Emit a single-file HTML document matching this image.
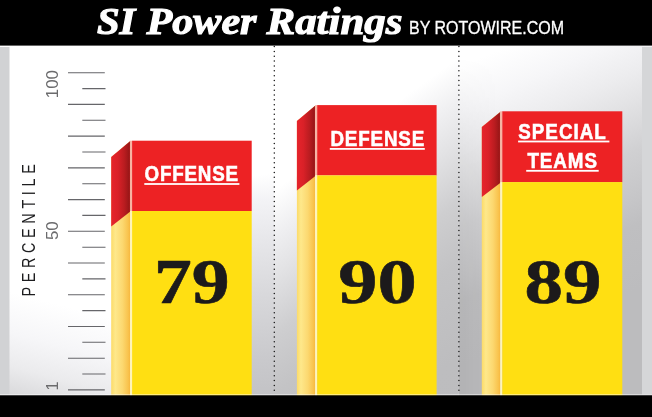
<!DOCTYPE html>
<html lang="en">
<head>
<meta charset="utf-8">
<title>SI Power Ratings</title>
<style>
  html, body { margin: 0; padding: 0; background: #fff; }
  body { width: 652px; height: 417px; overflow: hidden; }
  svg { display: block; }
  .serif { font-family: "Liberation Serif", "DejaVu Serif", serif; }
  .sans { font-family: "Liberation Sans", "DejaVu Sans", sans-serif; }
</style>
</head>
<body>
<svg width="652" height="417" viewBox="0 0 652 417">
  <defs>
    <!-- background diagonal gradient -->
    <linearGradient id="bgL" gradientUnits="userSpaceOnUse" x1="0" y1="0" x2="-175.0" y2="677.6">
      <stop offset="0.4000" stop-color="#ffffff"/>
      <stop offset="0.4571" stop-color="#f6f6f8"/>
      <stop offset="0.5029" stop-color="#ebebed"/>
      <stop offset="0.5343" stop-color="#dddddf"/>
      <stop offset="0.5714" stop-color="#cdcdcf"/>
    </linearGradient>
    <linearGradient id="bgM" gradientUnits="userSpaceOnUse" x1="0" y1="0" x2="408.8" y2="567.7">
      <stop offset="0.4500" stop-color="#ffffff"/>
      <stop offset="0.4986" stop-color="#f0f0f2"/>
      <stop offset="0.5471" stop-color="#e3e3e5"/>
      <stop offset="0.6171" stop-color="#ceced0"/>
      <stop offset="0.6600" stop-color="#c7c7c9"/>
      <stop offset="0.6871" stop-color="#c3c3c5"/>
      <stop offset="0.7971" stop-color="#bdbdbf"/>
      <stop offset="0.9143" stop-color="#bcbcbe"/>
    </linearGradient>
    <linearGradient id="bgR" gradientUnits="userSpaceOnUse" x1="0" y1="0" x2="280.0" y2="641.9">
      <stop offset="0.3500" stop-color="#ffffff"/>
      <stop offset="0.4071" stop-color="#f6f6f8"/>
      <stop offset="0.4571" stop-color="#ececee"/>
      <stop offset="0.4929" stop-color="#e3e3e5"/>
      <stop offset="0.5429" stop-color="#d5d5d7"/>
      <stop offset="0.5600" stop-color="#d0d0d2"/>
      <stop offset="0.6214" stop-color="#c6c6c8"/>
      <stop offset="0.6571" stop-color="#bfbfc1"/>
      <stop offset="0.7429" stop-color="#bcbcbe"/>
    </linearGradient>
    <linearGradient id="bgG1" gradientUnits="userSpaceOnUse" x1="0" y1="0" x2="42.0" y2="698.6">
      <stop offset="0.2714" stop-color="#ffffff"/>
      <stop offset="0.3071" stop-color="#f3f3f6"/>
      <stop offset="0.3643" stop-color="#e7e7ea"/>
      <stop offset="0.4429" stop-color="#d8d8db"/>
      <stop offset="0.5357" stop-color="#c9c9cc"/>
      <stop offset="0.5857" stop-color="#c3c3c6"/>
    </linearGradient>
    <!-- red side face -->
    <linearGradient id="redside" x1="0" y1="0" x2="1" y2="0">
      <stop offset="0" stop-color="#e6242b"/>
      <stop offset="0.35" stop-color="#da2128"/>
      <stop offset="0.7" stop-color="#b91c20"/>
      <stop offset="0.93" stop-color="#9c1718"/>
      <stop offset="1" stop-color="#a81b1c"/>
    </linearGradient>
    <!-- yellow side face -->
    <linearGradient id="yelside" x1="0" y1="0" x2="1" y2="0">
      <stop offset="0" stop-color="#fcdb68"/>
      <stop offset="0.22" stop-color="#fee88b"/>
      <stop offset="0.6" stop-color="#fcd870"/>
      <stop offset="0.9" stop-color="#f9c34d"/>
      <stop offset="1" stop-color="#f7b840"/>
    </linearGradient>
    <linearGradient id="edgeR" gradientUnits="userSpaceOnUse" x1="458.9" y1="0" x2="500" y2="0">
      <stop offset="0" stop-color="#000" stop-opacity="0.05"/>
      <stop offset="1" stop-color="#000" stop-opacity="0"/>
    </linearGradient>
    <linearGradient id="edgeRv" gradientUnits="userSpaceOnUse" x1="0" y1="55" x2="0" y2="170">
      <stop offset="0" stop-color="#000"/>
      <stop offset="1" stop-color="#fff"/>
    </linearGradient>
    <mask id="edgeMask" maskUnits="userSpaceOnUse" x="458" y="45" width="50" height="352">
      <rect x="458" y="45" width="50" height="352" fill="url(#edgeRv)"/>
    </mask>
  </defs>

  <!-- background -->
  <rect x="0" y="0" width="652" height="417" fill="#ffffff"/>
  <rect x="0" y="45" width="200" height="351" fill="url(#bgL)"/>
  <rect x="200" y="45" width="258.9" height="351" fill="url(#bgM)"/>
  <rect x="458.9" y="45" width="194" height="351" fill="url(#bgR)"/>
  <rect x="240" y="45" width="34.3" height="351" fill="url(#bgG1)"/>
  <rect x="458.9" y="45" width="41.1" height="351" fill="url(#edgeR)" mask="url(#edgeMask)"/>
  <!-- left / right gray strips -->
  <rect x="0" y="47" width="9.5" height="347.5" fill="#d1d2d4"/>
  <rect x="642" y="47" width="10" height="347.5" fill="#d5d6d8"/>

  <!-- dotted dividers -->
  <g stroke="#1a1a1a" stroke-width="1.5" stroke-linecap="round" stroke-dasharray="0 4.84" fill="none">
    <line x1="274.3" y1="46.6" x2="274.3" y2="395"/>
    <line x1="458.9" y1="46.6" x2="458.9" y2="395"/>
  </g>

  <!-- tick scale -->
  <g stroke="#66666a" stroke-width="1.1" fill="none">
    <path d="M68 72.7H104.8 M68 104.4H104.8 M68 136.1H104.8 M68 167.9H104.8 M68 199.6H104.8 M68 231.3H104.8 M68 263H104.8 M68 294.7H104.8 M68 326.5H104.8 M68 358.2H104.8 M68 389.9H104.8"/>
    <path d="M82.3 88.6H105.5 M82.3 120.3H105.5 M82.3 152H105.5 M82.3 183.7H105.5 M82.3 215.4H105.5 M82.3 247.2H105.5 M82.3 278.9H105.5 M82.3 310.6H105.5 M82.3 342.3H105.5 M82.3 374H105.5"/>
  </g>

  <!-- axis labels (rotated) -->
  <g class="sans" fill="#6b6b6d" font-size="17">
    <text transform="translate(58.1 98.2) rotate(-90)" textLength="28" lengthAdjust="spacingAndGlyphs">100</text>
    <text transform="translate(58 240.1) rotate(-90)" textLength="18.7" lengthAdjust="spacingAndGlyphs">50</text>
    <text transform="translate(58.4 390.6) rotate(-90)" textLength="9" lengthAdjust="spacingAndGlyphs">1</text>
  </g>
  <text class="sans" fill="#1d1d1f" font-size="18" transform="translate(35.3 296.6) rotate(-90) scale(0.8 1)" textLength="165.5" lengthAdjust="spacing">PERCENTILE</text>

  <!-- ===== OFFENSE bar ===== -->
  <g>
    <polygon points="111.2,157.1 130.0,141.3 130.0,396 111.2,396" fill="url(#yelside)"/>
    <polygon points="111.2,157.1 130.0,141.3 130.0,211.8 111.2,226.6" fill="url(#redside)"/>
    <rect x="130.0" y="140.7" width="2.3" height="70.3" fill="#f7b3a2"/>
    <rect x="130.0" y="211.0" width="2.3" height="185.0" fill="#fff4b8"/>
    <rect x="132.1" y="140.7" width="119.6" height="70.3" fill="#ed2224"/>
    <rect x="132.1" y="211.0" width="119.6" height="185.0" fill="#ffdf12"/>
  </g>
  <!-- ===== DEFENSE bar ===== -->
  <g>
    <polygon points="296.9,121.1 315.1,105.7 315.1,396 296.9,396" fill="url(#yelside)"/>
    <polygon points="296.9,121.1 315.1,105.7 315.1,176.2 296.9,190.6" fill="url(#redside)"/>
    <rect x="315.1" y="105.1" width="2.3" height="70.3" fill="#f7b3a2"/>
    <rect x="315.1" y="175.39999999999998" width="2.3" height="220.6" fill="#fff4b8"/>
    <rect x="317.2" y="105.1" width="119.4" height="70.3" fill="#ed2224"/>
    <rect x="317.2" y="175.39999999999998" width="119.4" height="220.6" fill="#ffdf12"/>
  </g>
  <!-- ===== SPECIAL TEAMS bar ===== -->
  <g>
    <polygon points="481.8,127.1 500.2,111.9 500.2,396 481.8,396" fill="url(#yelside)"/>
    <polygon points="481.8,127.1 500.2,111.9 500.2,182.9 481.8,197.1" fill="url(#redside)"/>
    <rect x="500.2" y="111.3" width="2.3" height="70.8" fill="#f7b3a2"/>
    <rect x="500.2" y="182.1" width="2.3" height="213.9" fill="#fff4b8"/>
    <rect x="502.3" y="111.3" width="120.0" height="70.8" fill="#ed2224"/>
    <rect x="502.3" y="182.1" width="120.0" height="213.9" fill="#ffdf12"/>
  </g>
  <!-- bar labels -->
  <g class="sans" fill="#ffffff" stroke="#ffffff" stroke-width="0.6" font-weight="700" font-size="22.4">
    <text transform="translate(144.6 180.9) scale(0.84 1)" textLength="111.2" lengthAdjust="spacing">OFFENSE</text>
    <text transform="translate(330.4 145.8) scale(0.84 1)" textLength="111.7" lengthAdjust="spacing">DEFENSE</text>
    <text transform="translate(518.2 138.5) scale(0.84 1)" textLength="104.3" lengthAdjust="spacing">SPECIAL</text>
    <text transform="translate(527.4 167.8) scale(0.84 1)" textLength="82.9" lengthAdjust="spacing">TEAMS</text>
  </g>
  <g fill="#ffffff">
    <rect x="144.3" y="183.1" width="95.1" height="1.8"/>
    <rect x="329.8" y="148" width="95" height="1.8"/>
    <rect x="518.1" y="140.6" width="91.3" height="1.8"/>
    <rect x="526.2" y="169.9" width="72.5" height="1.8"/>
  </g>

  <!-- numbers -->
  <g class="serif" fill="#1c1a1b" stroke="#1c1a1b" stroke-width="0.6" stroke-linejoin="round" font-weight="700" font-size="64.2">
    <text x="153.9" y="303.2" textLength="75.6" lengthAdjust="spacingAndGlyphs">79</text>
    <text x="338.2" y="303.2" textLength="78.4" lengthAdjust="spacingAndGlyphs">90</text>
    <text x="524.6" y="303.2" textLength="77" lengthAdjust="spacingAndGlyphs">89</text>
  </g>

  <rect x="0" y="394.2" width="652" height="1.2" fill="#ffffff" fill-opacity="0.55"/>
  <!-- header / footer bands -->
  <rect x="0" y="0" width="652" height="45.6" fill="#000000"/>
  <rect x="0" y="395.3" width="652" height="21.7" fill="#000000"/>

  <!-- title -->
  <g class="serif" fill="#ffffff" font-weight="700" font-style="italic" font-size="38" stroke="#ffffff" stroke-width="1.1">
    <text x="97" y="34.4" textLength="38.4" lengthAdjust="spacingAndGlyphs">SI</text>
    <text x="146.5" y="34.4" textLength="110" lengthAdjust="spacingAndGlyphs">Power</text>
    <text x="266.5" y="34.4" textLength="136" lengthAdjust="spacingAndGlyphs">Ratings</text>
  </g>
  <text class="sans" x="409" y="34.4" fill="#ffffff" stroke="#ffffff" stroke-width="0.3" font-size="18" textLength="155" lengthAdjust="spacingAndGlyphs">BY ROTOWIRE.COM</text>
</svg>
</body>
</html>
